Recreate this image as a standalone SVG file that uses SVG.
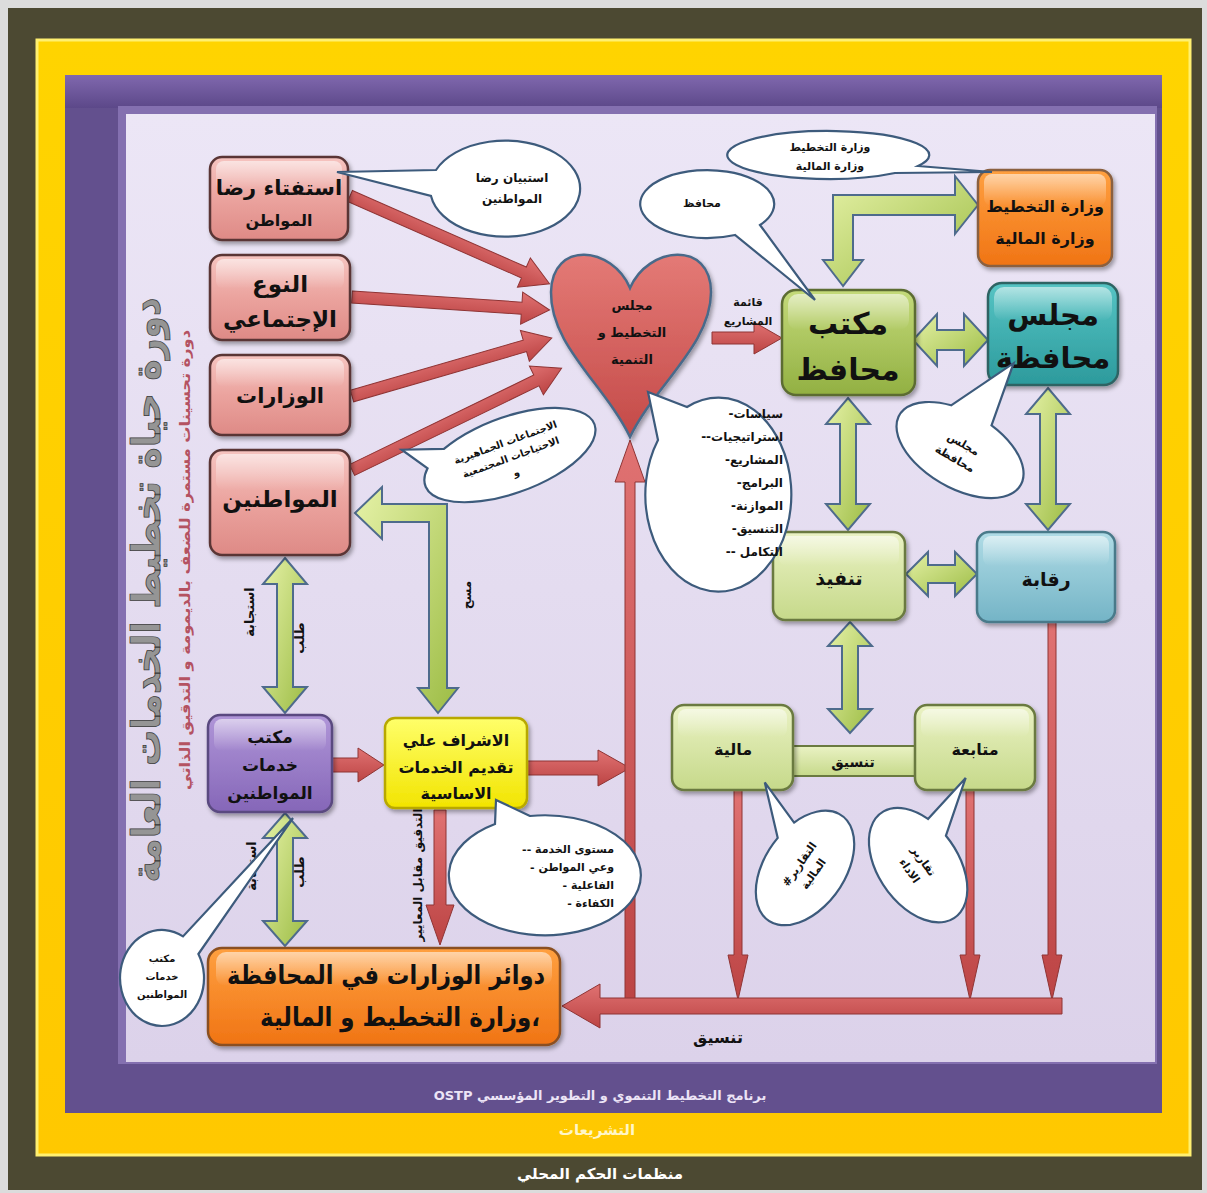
<svg xmlns="http://www.w3.org/2000/svg" width="1207" height="1193" viewBox="0 0 1207 1193">
<defs>
  <linearGradient id="gPanel" x1="0" y1="0" x2="0" y2="1">
    <stop offset="0" stop-color="#ece6f6"/><stop offset="1" stop-color="#dcd2ea"/>
  </linearGradient>
  <linearGradient id="gYel" x1="0" y1="0" x2="0" y2="1">
    <stop offset="0" stop-color="#ffd400"/><stop offset="1" stop-color="#ffc800"/>
  </linearGradient>
  <linearGradient id="gPurTop" x1="0" y1="0" x2="0" y2="1">
    <stop offset="0" stop-color="#8068ae"/><stop offset="1" stop-color="#5c4889"/>
  </linearGradient>
  <linearGradient id="gPink" x1="0" y1="0" x2="0" y2="1">
    <stop offset="0" stop-color="#f6c4c0"/><stop offset="0.5" stop-color="#eba39e"/><stop offset="1" stop-color="#de8a86"/>
  </linearGradient>
  <linearGradient id="gGreen" x1="0" y1="0" x2="0" y2="1">
    <stop offset="0" stop-color="#c4da7a"/><stop offset="1" stop-color="#92b042"/>
  </linearGradient>
  <linearGradient id="gTeal" x1="0" y1="0" x2="0" y2="1">
    <stop offset="0" stop-color="#56c4c4"/><stop offset="1" stop-color="#2c9a9c"/>
  </linearGradient>
  <linearGradient id="gOrange" x1="0" y1="0" x2="0" y2="1">
    <stop offset="0" stop-color="#ffa040"/><stop offset="1" stop-color="#f07414"/>
  </linearGradient>
  <linearGradient id="gLight" x1="0" y1="0" x2="0" y2="1">
    <stop offset="0" stop-color="#eaf2c4"/><stop offset="1" stop-color="#c6d98a"/>
  </linearGradient>
  <linearGradient id="gBlue" x1="0" y1="0" x2="0" y2="1">
    <stop offset="0" stop-color="#b0dce6"/><stop offset="1" stop-color="#74b4c6"/>
  </linearGradient>
  <linearGradient id="gPurple" x1="0" y1="0" x2="0" y2="1">
    <stop offset="0" stop-color="#b096d8"/><stop offset="1" stop-color="#8566b8"/>
  </linearGradient>
  <linearGradient id="gYellowBox" x1="0" y1="0" x2="0" y2="1">
    <stop offset="0" stop-color="#ffff6a"/><stop offset="1" stop-color="#f2e400"/>
  </linearGradient>
  <linearGradient id="gHeart" x1="0" y1="0" x2="0" y2="1">
    <stop offset="0" stop-color="#e47a76"/><stop offset="1" stop-color="#c44a48"/>
  </linearGradient>
  <linearGradient id="gRed" x1="0" y1="0" x2="0" y2="1">
    <stop offset="0" stop-color="#e07272"/><stop offset="1" stop-color="#bc4444"/>
  </linearGradient>
  <linearGradient id="gArrowG" x1="0" y1="0" x2="1" y2="1">
    <stop offset="0" stop-color="#e6f2a8"/><stop offset="1" stop-color="#9cbc44"/>
  </linearGradient>
  <linearGradient id="gHi" x1="0" y1="0" x2="0" y2="1">
    <stop offset="0" stop-color="#ffffff" stop-opacity="0.55"/><stop offset="1" stop-color="#ffffff" stop-opacity="0"/>
  </linearGradient>
  <filter id="sh" x="-10%" y="-10%" width="130%" height="130%">
    <feDropShadow dx="2" dy="3" stdDeviation="2" flood-color="#000" flood-opacity="0.35"/>
  </filter>
</defs>
<style>
  .t { font-family: "DejaVu Sans", "Noto Sans", sans-serif; font-weight: bold; text-anchor: middle; fill: #111; }
  .box { stroke-width: 2.5; filter: url(#sh); }
  .hi { fill: url(#gHi); }
  .call { fill: #ffffff; stroke: #3d5b7c; stroke-width: 2.2; }
  .ra { fill: url(#gRed); stroke: #8f3434; stroke-width: 1; }
  .ga { fill: url(#gArrowG); stroke: #4e6b8c; stroke-width: 2; }
</style>

<!-- nested frames -->
<rect width="1207" height="1193" fill="#dcdcdc"/>
<rect x="8" y="8" width="1194" height="1182" fill="#4c4932"/>
<rect x="37" y="40" width="1153" height="1115" fill="url(#gYel)" stroke="#fff070" stroke-width="3"/>
<rect x="65" y="75" width="1097" height="1038" fill="#63508e"/>
<rect x="65" y="75" width="1097" height="33" fill="url(#gPurTop)"/>
<rect x="118" y="106" width="1039" height="958" fill="#8470b0"/>
<rect x="126" y="114" width="1029" height="948" fill="url(#gPanel)"/>
<text class="t" x="600" y="1100" font-size="13" font-weight="normal" direction="rtl" style="fill:#ece4f6">برنامج التخطيط التنموي و التطوير المؤسسي OSTP</text>
<text class="t" x="597" y="1135" font-size="15" style="fill:#fff6c8">التشريعات</text>
<text class="t" x="600" y="1179" font-size="15" style="fill:#ffffff">منظمات الحكم المحلي</text>

<!-- side titles -->
<text class="t" transform="translate(160,590) rotate(-90)" font-size="40" textLength="585" lengthAdjust="spacingAndGlyphs" style="fill:#959595;stroke:#3c3c3c;stroke-width:0.8">دورة حياة تخطيط الخدمات العامة</text>
<text class="t" transform="translate(190,560) rotate(-90)" font-size="14" textLength="460" lengthAdjust="spacingAndGlyphs" style="fill:#b45262">دورة تحسينات مستمرة للضعف بالديمومة و التدقيق الذاتي</text>

<!-- connectors -->
<g id="connectors">
  <path class="ra" transform="translate(350,196) rotate(23.75)" d="M0,-6 H190 V-16 L218,0 L190,16 V6 H0 Z"/>
  <path class="ra" transform="translate(352,297) rotate(3.76)" d="M0,-6 H170 V-16 L198,0 L170,16 V6 H0 Z"/>
  <path class="ra" transform="translate(352,396) rotate(-16.17)" d="M0,-6 H180 V-16 L208,0 L180,16 V6 H0 Z"/>
  <path class="ra" transform="translate(352,470) rotate(-25.9)" d="M0,-6 H205 V-16 L233,0 L205,16 V6 H0 Z"/>
  <path class="ra" transform="translate(712,338)" d="M0,-6 H42 V-16 L70,0 L42,16 V6 H0 Z"/>
  <path class="ra" d="M332,758 H358 V748 L384,765 L358,782 V772 H332 Z"/>
  <path class="ra" d="M527,761 H598 V750 L630,768 L598,786 V775 H527 Z"/>
  <path class="ra" d="M434,810 V905 H426 L440,945 L454,905 H446 V810 Z"/>
  <path class="ra" d="M625,1004 V482 H615 L630,440 L645,482 H635 V1004 Z"/>
  <path class="ra" d="M734,790 V955 H728 L738,1000 L748,955 H742 V790 Z"/>
  <path class="ra" d="M966,790 V955 H960 L970,1000 L980,955 H974 V790 Z"/>
  <path class="ra" d="M1048,622 V955 H1042 L1052,1000 L1062,955 H1056 V622 Z"/>
  <path class="ra" d="M1062,998 H600 V984 L562,1006 L600,1028 V1014 H1062 Z"/>

  <path class="ga" d="M913,340 L937,314 L937,330 L964,330 L964,314 L988,340 L964,366 L964,350 L937,350 L937,366 Z"/>
  <path class="ga" d="M848,398 L870,424 L856,424 L856,504 L870,504 L848,530 L826,504 L840,504 L840,424 L826,424 Z"/>
  <path class="ga" d="M1048,388 L1070,414 L1056,414 L1056,504 L1070,504 L1048,530 L1026,504 L1040,504 L1040,414 L1026,414 Z"/>
  <path class="ga" d="M906,574 L928,552 L928,565 L955,565 L955,552 L977,574 L955,596 L955,583 L928,583 L928,596 Z"/>
  <path class="ga" d="M850,622 L872,646 L858,646 L858,709 L872,709 L850,733 L828,709 L842,709 L842,646 L828,646 Z"/>
  <path class="ga" d="M285,558 L307,584 L293,584 L293,687 L307,687 L285,713 L263,687 L277,687 L277,584 L263,584 Z"/>
  <path class="ga" d="M285,813 L307,838 L293,838 L293,921 L307,921 L285,946 L263,921 L277,921 L277,838 L263,838 Z"/>
  <path class="ga" d="M843,286 L823,260 L833,260 L833,195 L955,195 L955,176 L978,205 L955,234 L955,215 L853,215 L853,260 L863,260 Z"/>
  <path class="ga" d="M438,713 L458,688 L447,688 L447,504 L382,504 L382,487 L355,513 L382,539 L382,522 L429,522 L429,688 L418,688 Z"/>

  <text class="t" x="748" y="306" font-size="11">قائمة</text>
  <text class="t" x="748" y="325" font-size="11">المشاريع</text>
  <text class="t" transform="translate(254,612) rotate(-90)" font-size="13">استجابة</text>
  <text class="t" transform="translate(304,638) rotate(-90)" font-size="13">طلب</text>
  <text class="t" transform="translate(256,866) rotate(-90)" font-size="13">استجابة</text>
  <text class="t" transform="translate(304,872) rotate(-90)" font-size="13">طلب</text>
  <text class="t" transform="translate(471,595) rotate(-90)" font-size="12">مسح</text>
  <text class="t" transform="translate(422,875) rotate(-90)" font-size="12">التدقيق مقابل المعايير</text>
  <text class="t" x="718" y="1043" font-size="16">تنسيق</text>
</g>

<!-- left column -->
<g id="node-survey">
  <rect class="box" x="210" y="157" width="138" height="83" rx="12" fill="url(#gPink)" stroke="#5a3636"/>
  <rect class="hi" x="216" y="161" width="126" height="30" rx="8"/>
  <text class="t" x="279" y="195" font-size="21">استفتاء رضا</text>
  <text class="t" x="279" y="226" font-size="16">المواطن</text>
</g>
<g id="node-gender">
  <rect class="box" x="210" y="255" width="140" height="85" rx="12" fill="url(#gPink)" stroke="#5a3636"/>
  <rect class="hi" x="216" y="259" width="128" height="30" rx="8"/>
  <text class="t" x="280" y="292" font-size="23">النوع</text>
  <text class="t" x="280" y="327" font-size="23">الإجتماعي</text>
</g>
<g id="node-ministries">
  <rect class="box" x="210" y="355" width="140" height="80" rx="12" fill="url(#gPink)" stroke="#5a3636"/>
  <rect class="hi" x="216" y="359" width="128" height="28" rx="8"/>
  <text class="t" x="280" y="403" font-size="21">الوزارات</text>
</g>
<g id="node-citizens">
  <rect class="box" x="210" y="450" width="140" height="105" rx="12" fill="url(#gPink)" stroke="#5a3636"/>
  <rect class="hi" x="216" y="454" width="128" height="36" rx="8"/>
  <text class="t" x="280" y="507" font-size="23">المواطنين</text>
</g>
<g id="node-service-office">
  <rect class="box" x="208" y="715" width="124" height="97" rx="12" fill="url(#gPurple)" stroke="#5a4a80"/>
  <rect class="hi" x="214" y="719" width="112" height="32" rx="8"/>
  <text class="t" x="270" y="743" font-size="17">مكتب</text>
  <text class="t" x="270" y="771" font-size="17">خدمات</text>
  <text class="t" x="270" y="799" font-size="17">المواطنين</text>
</g>
<g id="node-supervision">
  <rect class="box" x="385" y="718" width="142" height="90" rx="10" fill="url(#gYellowBox)" stroke="#b8a800"/>
  <text class="t" x="456" y="746" font-size="16">الاشراف علي</text>
  <text class="t" x="456" y="773" font-size="16">تقديم الخدمات</text>
  <text class="t" x="456" y="799" font-size="16">الاساسية</text>
</g>
<g id="node-departments">
  <rect class="box" x="208" y="948" width="352" height="97" rx="14" fill="url(#gOrange)" stroke="#8a5020"/>
  <rect class="hi" x="216" y="952" width="336" height="34" rx="10"/>
  <text class="t" x="386" y="984" font-size="26" textLength="318" lengthAdjust="spacingAndGlyphs">دوائر الوزارات في المحافظة</text>
  <text class="t" x="400" y="1026" font-size="26" direction="rtl" textLength="280" lengthAdjust="spacingAndGlyphs">،وزارة التخطيط و المالية</text>
</g>

<!-- centre -->
<g id="node-council-heart">
  <path d="M630,288 C612,246 552,240 551,292 C550,345 605,385 630,437 C655,385 711,345 711,292 C711,240 648,246 630,288 Z" fill="url(#gHeart)" stroke="#4a6a8a" stroke-width="2.5" filter="url(#sh)"/>
  <text class="t" x="632" y="310" font-size="13">مجلس</text>
  <text class="t" x="632" y="337" font-size="13">التخطيط و</text>
  <text class="t" x="632" y="364" font-size="13">التنمية</text>
</g>

<!-- right side -->
<g id="node-ministry-top">
  <rect class="box" x="978" y="170" width="134" height="96" rx="12" fill="url(#gOrange)" stroke="#8a6040"/>
  <rect class="hi" x="984" y="174" width="122" height="32" rx="8"/>
  <text class="t" x="1045" y="212" font-size="16">وزارة التخطيط</text>
  <text class="t" x="1045" y="244" font-size="16">وزارة المالية</text>
</g>
<g id="node-governor-office">
  <rect class="box" x="782" y="290" width="133" height="105" rx="14" fill="url(#gGreen)" stroke="#5c6c32"/>
  <rect class="hi" x="788" y="294" width="121" height="36" rx="10"/>
  <text class="t" x="848" y="334" font-size="30">مكتب</text>
  <text class="t" x="848" y="380" font-size="30">محافظ</text>
</g>
<g id="node-provincial-council">
  <rect class="box" x="988" y="283" width="130" height="102" rx="14" fill="url(#gTeal)" stroke="#2e6464"/>
  <rect class="hi" x="994" y="287" width="118" height="34" rx="10"/>
  <text class="t" x="1053" y="325" font-size="29">مجلس</text>
  <text class="t" x="1053" y="368" font-size="29">محافظة</text>
</g>
<g id="node-execution">
  <rect class="box" x="773" y="532" width="132" height="88" rx="12" fill="url(#gLight)" stroke="#6a7a40"/>
  <rect class="hi" x="779" y="536" width="120" height="30" rx="8"/>
  <text class="t" x="839" y="585" font-size="19">تنفيذ</text>
</g>
<g id="node-oversight">
  <rect class="box" x="977" y="532" width="138" height="90" rx="12" fill="url(#gBlue)" stroke="#4a7a8a"/>
  <rect class="hi" x="983" y="536" width="126" height="30" rx="8"/>
  <text class="t" x="1046" y="586" font-size="19">رقابة</text>
</g>
<g id="node-coordination-bar">
  <rect x="793" y="746" width="122" height="30" fill="url(#gLight)" stroke="#6a7a40" stroke-width="2"/>
  <text class="t" x="853" y="767" font-size="14">تنسيق</text>
</g>
<g id="node-finance">
  <rect class="box" x="672" y="705" width="121" height="85" rx="12" fill="url(#gLight)" stroke="#6a7a40"/>
  <rect class="hi" x="678" y="709" width="109" height="28" rx="8"/>
  <text class="t" x="733" y="755" font-size="16">مالية</text>
</g>
<g id="node-followup">
  <rect class="box" x="915" y="705" width="120" height="85" rx="12" fill="url(#gLight)" stroke="#6a7a40"/>
  <rect class="hi" x="921" y="709" width="108" height="28" rx="8"/>
  <text class="t" x="975" y="755" font-size="16">متابعة</text>
</g>

<!-- speech bubbles -->
<g id="callout-survey">
  <path class="call" d="M436,170 L337,172 L431,196 A75,48 0 1 0 436,170 Z"/>
  <text class="t" x="512" y="182" font-size="12">استبيان رضا</text>
  <text class="t" x="512" y="203" font-size="12">المواطنين</text>
</g>
<g id="callout-governor">
  <path class="call" d="M760,225 L815,300 L735,235 A67,34 0 1 1 760,225 Z"/>
  <text class="t" x="702" y="207" font-size="11">محافظ</text>
</g>
<g id="callout-ministries">
  <path class="call" d="M918,166 L992,172 L895,173 A101,24 0 1 1 918,166 Z"/>
  <text class="t" x="830" y="151" font-size="11">وزارة التخطيط</text>
  <text class="t" x="830" y="170" font-size="11">وزارة المالية</text>
</g>
<g id="callout-outputs">
  <path class="call" d="M658,440 L648,392 L687,407 A73,97 0 1 1 658,440 Z"/>
  <g class="t" font-size="12" style="text-anchor:end">
    <text x="783" y="418">-سياسات</text>
    <text x="783" y="441">--استراتيجيات</text>
    <text x="783" y="464">-المشاريع</text>
    <text x="783" y="487">-البرامج</text>
    <text x="783" y="510">-الموازنة</text>
    <text x="783" y="533">-التنسيق</text>
    <text x="783" y="556">-- التكامل</text>
  </g>
</g>
<g id="callout-meetings" transform="translate(510,455) rotate(-20)">
  <path class="call" d="M-60,-28.3 L-100,-42 L-82,-15.7 A90,38 0 1 0 -60,-28.3 Z"/>
  <text class="t" x="0" y="-10" font-size="10">الاجتماعات الجماهيرية</text>
  <text class="t" x="0" y="6" font-size="10">الاحتياجات المجتمعية</text>
  <text class="t" x="0" y="22" font-size="10">و</text>
</g>
<g id="callout-council" transform="translate(960,450) rotate(30)">
  <path class="call" d="M15,-37.1 L3,-102 L-30,-34.3 A70,38 0 1 0 15,-37.1 Z"/>
  <text class="t" x="0" y="-3" font-size="11">مجلس</text>
  <text class="t" x="0" y="14" font-size="11">محافظة</text>
</g>
<g id="callout-financial-reports" transform="translate(805,868) rotate(-55)">
  <path class="call" d="M31,-35 L47,-82 L9,-39.6 A64,40 0 1 0 31,-35 Z"/>
  <text class="t" x="0" y="-3" font-size="11">#التقارير</text>
  <text class="t" x="0" y="14" font-size="11">المالية</text>
</g>
<g id="callout-performance" transform="translate(918,865) rotate(55)">
  <path class="call" d="M-8,-39.7 L-44,-89 L-32,-34.6 A64,40 0 1 0 -8,-39.7 Z"/>
  <text class="t" x="0" y="-3" font-size="11">تقارير</text>
  <text class="t" x="0" y="14" font-size="11">الاداء</text>
</g>
<g id="callout-quality">
  <path class="call" d="M530,816 L496,800 L495,824 A96,60 0 1 0 530,816 Z"/>
  <g class="t" font-size="11" style="text-anchor:end">
    <text x="614" y="853">-- مستوى الخدمة</text>
    <text x="614" y="871">- وعي المواطن</text>
    <text x="614" y="889">- الفاعلية</text>
    <text x="614" y="907">- الكفاءة</text>
  </g>
</g>
<g id="callout-service-office">
  <path class="call" d="M198.4,954 L293,818 L183,936.4 A42,48 0 1 0 198.4,954 Z"/>
  <text class="t" x="162" y="962" font-size="10">مكتب</text>
  <text class="t" x="162" y="980" font-size="10">خدمات</text>
  <text class="t" x="162" y="998" font-size="10">المواطنين</text>
</g>
</svg>
